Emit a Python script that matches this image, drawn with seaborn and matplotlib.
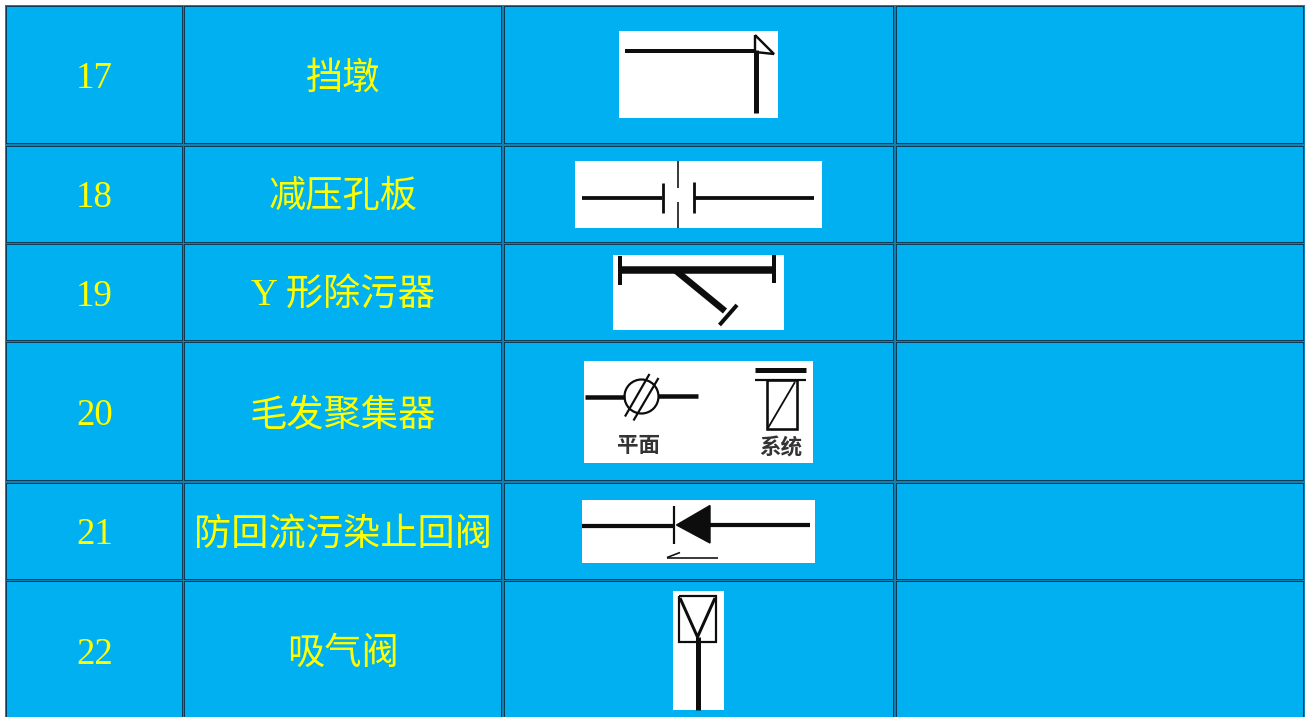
import matplotlib
matplotlib.use('Agg')
from matplotlib import pyplot as plt
from matplotlib.patches import Rectangle, Circle
import seaborn as sns

# table text
row_numbers = ['17', '18', '19', '20', '21', '22']
row_names = ['挡墩', '减压孔板', 'Y 形除污器', '毛发聚集器', '防回流污染止回阀', '吸气阀']
text_y = [79, 198, 296.5, 416, 535, 655]

# cell edges in image pixels
col_left = [6, 184, 504, 896]
col_right = [183, 502, 894, 1304]
row_top = [6, 146, 244, 342, 483, 581]
row_bottom = [144, 243, 341, 481, 580, 730]

# white pictures in column 3: left, right, top, bottom
picture_boxes = [
    (619, 778, 31, 118),
    (575, 822, 161, 228),
    (613, 784, 255, 330),
    (584, 813, 361, 463),
    (582, 815, 500, 563),
    (673, 724, 591, 710),
]

# symbol strokes: xs, ys, width in px
symbol_strokes = [
    # 17
    ([625, 755], [50.5, 50.5], 4),
    ([755.5, 755.5], [50, 113], 5),
    ([755, 774, 755, 755], [35, 54, 52, 35], 2.4),
    # 18
    ([581.5, 662], [198, 198], 3.8),
    ([695, 814], [197.5, 197.5], 3.8),
    ([663, 663], [183, 213], 2.8),
    ([693.5, 693.5], [182, 213], 2.8),
    ([678, 678], [161, 188], 1.6),
    ([678, 678], [202, 228], 1.6),
    # 19
    ([620, 773], [270, 270], 7.5),
    ([619.5, 619.5], [256, 285], 4),
    ([773.5, 773.5], [255, 283], 4),
    ([675, 725], [270, 311], 6.5),
    ([737, 719.5], [305, 325], 4),
    # 20
    ([585, 625], [396.5, 396.5], 4.5),
    ([658, 698], [396, 396], 4.5),
    ([625, 649.5], [416.5, 374], 2.2),
    ([633.5, 658.5], [420.5, 378], 2.2),
    ([755, 806], [370, 370], 5),
    ([755, 806], [380, 380], 2.2),
    ([767, 797, 797, 767, 767], [380, 380, 429, 429, 380], 2.6),
    ([768, 795], [428, 382], 1.8),
    # 21
    ([582, 674], [525.5, 525.5], 4.2),
    ([710, 810], [524.5, 524.5], 4.2),
    ([673.5, 673.5], [505.5, 543.5], 2.2),
    ([667, 718], [557.5, 557.5], 1.6),
    ([667, 680], [557.5, 552.5], 1.6),
    # 22
    ([678.5, 715.5, 715.5, 678.5, 678.5], [596, 596, 642, 642, 596], 2.2),
    ([680, 697.5, 715], [598, 637, 598], 3),
    ([697.5, 697.5], [637, 710], 5),
]

# filled arrow head of symbol 21
arrow_xs = [676.5, 710, 710]
arrow_ys = [525, 505.5, 543]

# labels inside the picture of symbol 20
picture_labels = ['平面', '系统']
picture_label_x = [638.5, 781]
picture_label_y = [447.5, 448.5]

cell_blue = '#00b0f0'
gap_blue = '#1580ad'
border_dark = '#0c3c58'
ink = '#0d0d0d'
yellow = '#ffff00'

sns.set_style('white')
plt.rcParams['font.family'] = ['Liberation Serif', 'Noto Sans CJK SC']

fig = plt.figure(figsize=(13.07, 7.17), dpi=100)
ax = fig.add_axes([0, 0, 1, 1])
ax.set_xlim(0, 1307)
ax.set_ylim(717, 0)
ax.axis('off')
ax.set_autoscale_on(False)


def box(x0, x1, y0, y1, color, z):
    ax.add_patch(Rectangle((x0, y0), x1 - x0, y1 - y0, facecolor=color,
                           edgecolor='none', antialiased=False, zorder=z))


# table background and cells
box(5, 1305, 5, 730, gap_blue, 1)
for t, b in zip(row_top, row_bottom):
    for l, r in zip(col_left, col_right):
        box(l, r, t, b, border_dark, 2)
        box(l + 1, r - 1, t + 1, b - 1, cell_blue, 3)

for i in range(len(row_numbers)):
    ax.text(94.5, text_y[i], row_numbers[i], color=yellow, fontsize=26.6,
            ha='center', va='center', zorder=5)
    ax.text(343, text_y[i], row_names[i], color=yellow, fontsize=26.8,
            ha='center', va='center', zorder=5)
    l, r, t, b = picture_boxes[i]
    box(l, r, t, b, 'white', 4)

# symbol strokes
for xs, ys, w in symbol_strokes:
    sns.lineplot(x=xs, y=ys, ax=ax, color=ink, linewidth=w * 0.72, sort=False,
                 estimator=None, legend=False, zorder=6,
                 solid_capstyle='butt', solid_joinstyle='miter')
ax.fill(arrow_xs, arrow_ys, color=ink, zorder=6)
ax.add_patch(Circle((641.5, 396.5), 17, fill=False, edgecolor=ink, linewidth=1.6, zorder=6))

for s, x, y in zip(picture_labels, picture_label_x, picture_label_y):
    ax.text(x, y, s, color='#333333', fontsize=15.5, fontweight='bold',
            ha='center', va='center', zorder=6)

ax.set_xlim(0, 1307)
ax.set_ylim(717, 0)
fig.savefig('out.png', dpi=100)
